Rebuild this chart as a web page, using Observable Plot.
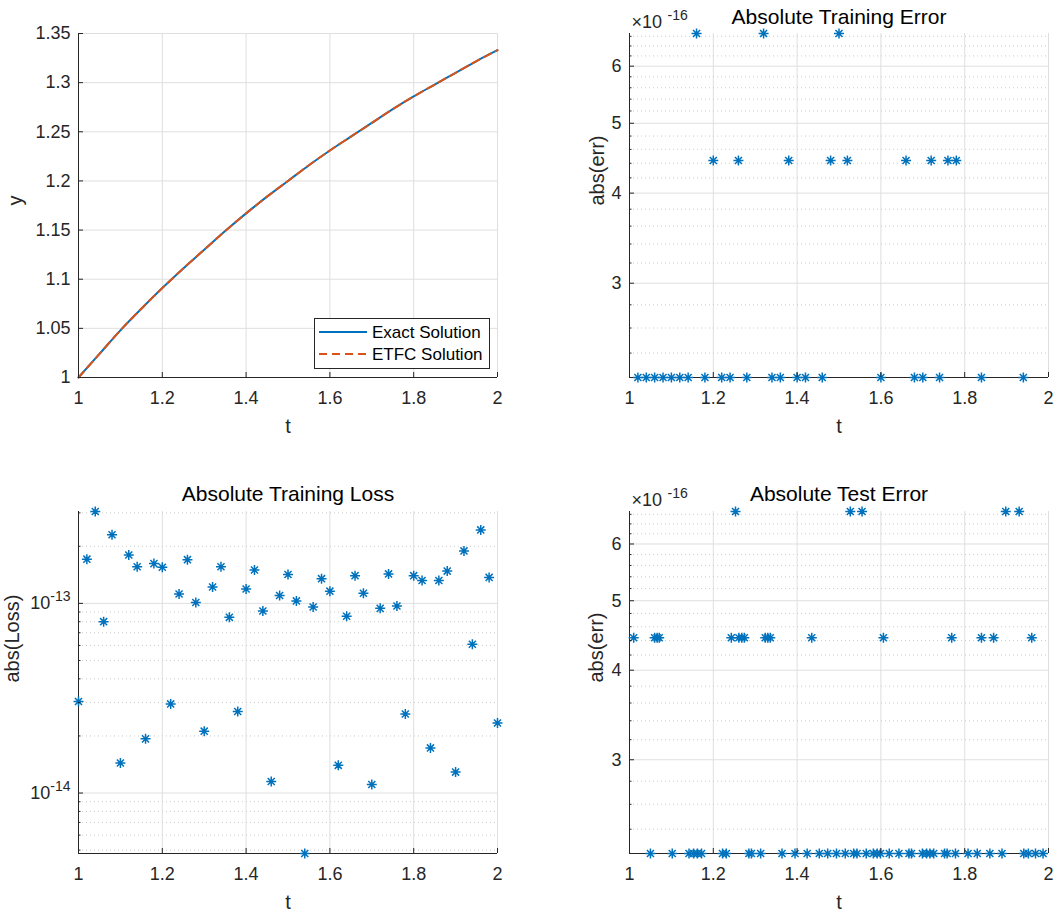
<!DOCTYPE html>
<html>
<head>
<meta charset="utf-8">
<script src="https://cdn.jsdelivr.net/npm/d3@7"></script>
<script src="https://cdn.jsdelivr.net/npm/@observablehq/plot@0.6"></script>
<style>
  html, body { margin: 0; padding: 0; background: #ffffff; }
  #fig { position: relative; width: 1055px; height: 914px; overflow: hidden;
         font-family: "Liberation Sans", Arial, Helvetica, sans-serif; color: #262626; }
  #fig .panel { position: absolute; }
  #fig .legend { position: absolute; box-sizing: border-box; border: 1px solid #262626; background: #fff; }
</style>
</head>
<body>
<div id="fig"></div>
<script>
// ---------------- data ----------------
const xTicks = [1, 1.2, 1.4, 1.6, 1.8, 2];

// Panel 1: solution curves
const solT = [1.00, 1.05, 1.10, 1.15, 1.20, 1.25, 1.30, 1.35, 1.40, 1.45, 1.50,
              1.55, 1.60, 1.65, 1.70, 1.75, 1.80, 1.85, 1.90, 1.95, 2.00];
const yExact = [1.000, 1.024, 1.048, 1.070, 1.091, 1.111, 1.130, 1.149, 1.167, 1.184, 1.200,
                1.216, 1.231, 1.245, 1.259, 1.273, 1.286, 1.298, 1.310, 1.322, 1.333];
const yETFC  = [1.000, 1.024, 1.048, 1.070, 1.091, 1.111, 1.130, 1.149, 1.167, 1.184, 1.200,
                1.216, 1.231, 1.245, 1.259, 1.273, 1.286, 1.298, 1.310, 1.322, 1.333];
const solYTicks = [1, 1.05, 1.1, 1.15, 1.2, 1.25, 1.3, 1.35];
const legendLabels = ["Exact Solution", "ETFC Solution"];

// Panels 2 & 4: error levels (multiples of machine epsilon)
const errLevels = [2.22e-16, 4.44e-16, 6.66e-16];
const errYTicks = [3e-16, 4e-16, 5e-16, 6e-16];
const errYTickLabels = ["3", "4", "5", "6"];
const errYMinor = [2.4e-16, 2.6e-16, 2.8e-16, 3.2e-16, 3.4e-16, 3.6e-16, 3.8e-16,
                   4.2e-16, 4.4e-16, 4.6e-16, 4.8e-16, 5.2e-16, 5.4e-16, 5.6e-16, 5.8e-16,
                   6.2e-16, 6.4e-16, 6.6e-16];

// Panel 2: training error, t positions per level
const trainTLevel1 = [1.02, 1.04, 1.06, 1.08, 1.10, 1.12, 1.14, 1.18, 1.22, 1.24, 1.28,
                      1.34, 1.36, 1.40, 1.42, 1.46, 1.60, 1.68, 1.70, 1.74, 1.84, 1.94];
const trainTLevel2 = [1.20, 1.26, 1.38, 1.48, 1.52, 1.66, 1.72, 1.76, 1.78];
const trainTLevel3 = [1.16, 1.32, 1.50];

// Panel 4: test error, t positions per level
const testTLevel1 = [1.050, 1.102, 1.142, 1.153, 1.162, 1.172, 1.222, 1.231, 1.285, 1.291, 1.313,
                     1.364, 1.395, 1.424, 1.453, 1.473, 1.494, 1.515, 1.535, 1.543, 1.565, 1.582,
                     1.591, 1.599, 1.620, 1.643, 1.667, 1.673, 1.699, 1.709, 1.717, 1.726, 1.752,
                     1.758, 1.778, 1.808, 1.830, 1.860, 1.889, 1.941, 1.952, 1.969, 1.987];
const testTLevel2 = [1.010, 1.060, 1.066, 1.071, 1.243, 1.261, 1.268, 1.274, 1.324, 1.330, 1.336,
                     1.435, 1.606, 1.769, 1.840, 1.869, 1.960];
const testTLevel3 = [1.253, 1.527, 1.555, 1.898, 1.930];

// Panel 3: training loss
const lossT = [1.00, 1.02, 1.04, 1.06, 1.08, 1.10, 1.12, 1.14, 1.16, 1.18, 1.20,
               1.22, 1.24, 1.26, 1.28, 1.30, 1.32, 1.34, 1.36, 1.38, 1.40,
               1.42, 1.44, 1.46, 1.48, 1.50, 1.52, 1.54, 1.56, 1.58, 1.60,
               1.62, 1.64, 1.66, 1.68, 1.70, 1.72, 1.74, 1.76, 1.78, 1.80,
               1.82, 1.84, 1.86, 1.88, 1.90, 1.92, 1.94, 1.96, 1.98, 2.00];
const lossVal = [3.04e-14, 1.71e-13, 3.05e-13, 8.01e-14, 2.30e-13, 1.44e-14, 1.80e-13, 1.56e-13, 1.93e-14, 1.62e-13, 1.55e-13,
                 2.95e-14, 1.12e-13, 1.70e-13, 1.01e-13, 2.12e-14, 1.22e-13, 1.56e-13, 8.44e-14, 2.69e-14, 1.19e-13,
                 1.50e-13, 9.11e-14, 1.15e-14, 1.10e-13, 1.42e-13, 1.03e-13, 4.80e-15, 9.57e-14, 1.35e-13, 1.16e-13,
                 1.40e-14, 8.55e-14, 1.40e-13, 1.13e-13, 1.11e-14, 9.41e-14, 1.43e-13, 9.68e-14, 2.61e-14, 1.40e-13,
                 1.32e-13, 1.73e-14, 1.32e-13, 1.48e-13, 1.29e-14, 1.89e-13, 6.09e-14, 2.44e-13, 1.37e-13, 2.34e-14];
const lossYTicks = [1e-14, 1e-13];
const lossYTickLabels = ["10^-14", "10^-13"];
const lossYMinor = [5e-15, 6e-15, 7e-15, 8e-15, 9e-15,
                    2e-14, 3e-14, 4e-14, 5e-14, 6e-14, 7e-14, 8e-14, 9e-14,
                    2e-13, 3e-13];

// ---------------- styling ----------------
const AX = "#262626", GRID = "#dfdfdf", MINOR = "#cdcdcd", BLUE = "#0072BD", RED = "#D95319";
const FONT = '"Liberation Sans", Arial, Helvetica, sans-serif';

// MATLAB-like 8-spoke asterisk marker
const asterisk = {
  draw(ctx, size) {
    const r = Math.sqrt(size / Math.PI), d = r * Math.SQRT1_2;
    ctx.moveTo(-r, 0); ctx.lineTo(r, 0);
    ctx.moveTo(0, -r); ctx.lineTo(0, r);
    ctx.moveTo(-d, -d); ctx.lineTo(d, d);
    ctx.moveTo(-d, d); ctx.lineTo(d, -d);
  }
};

const fig = document.getElementById("fig");

function labelFor(ticks, labels) {
  return d => {
    const i = ticks.findIndex(v => Math.abs(v - d) <= Math.abs(v) * 1e-9);
    return i >= 0 ? labels[i] : "";
  };
}

function buildPanel(cfg) {
  const {left, top, width, height, m, yType, yDomain, yTicks, yFormat, yMinor,
         title, ylabel, ylabelDx, dataMarks, exponent} = cfg;
  const marks = [
    Plot.gridX(xTicks, {stroke: GRID, strokeOpacity: 1, strokeWidth: 1}),
    Plot.gridY(yTicks, {stroke: GRID, strokeOpacity: 1, strokeWidth: 1})
  ];
  if (yMinor) marks.push(Plot.gridY(yMinor, {stroke: MINOR, strokeOpacity: 1, strokeWidth: 1, strokeDasharray: "1,3"}));
  marks.push(
    Plot.ruleX([1], {stroke: AX, strokeWidth: 1}),
    Plot.ruleY([yDomain[0]], {stroke: AX, strokeWidth: 1}),
    ...dataMarks,
    Plot.axisX(xTicks, {tickSize: 0, tickPadding: 14, tickFormat: d => String(d), label: null, fontSize: 18, fill: AX}),
    Plot.axisX(xTicks, {tickSize: -5, tickFormat: () => "", label: null, stroke: AX}),
    Plot.axisY(yTicks, {tickSize: 0, tickPadding: 8, tickFormat: yFormat, label: null, fontSize: 18, fill: AX}),
    Plot.axisY(yTicks, {tickSize: -5, tickFormat: () => "", label: null, stroke: AX})
  );
  if (yMinor) marks.push(Plot.axisY(yMinor, {tickSize: -2.5, tickFormat: () => "", label: null, stroke: AX}));
  if (title) marks.push(Plot.text([title], {text: d => d, frameAnchor: "top", dy: cfg.titleDy, lineAnchor: "middle", fontSize: 21, fill: "#000"}));
  marks.push(Plot.text(["t"], {text: d => d, frameAnchor: "bottom", dy: 49, lineAnchor: "middle", fontSize: 20, fill: AX}));
  marks.push(Plot.text([ylabel], {text: d => d, frameAnchor: "left", dx: ylabelDx, rotate: -90, lineAnchor: "middle", fontSize: 20, fill: AX}));
  if (exponent) {
    marks.push(Plot.text(["\u00d710"], {text: d => d, frameAnchor: "top-left", textAnchor: "start", lineAnchor: "bottom", dx: 2, dy: -6, fontSize: 18, fill: AX}));
    marks.push(Plot.text([exponent], {text: d => d, frameAnchor: "top-left", textAnchor: "start", lineAnchor: "bottom", dx: 38, dy: -14, fontSize: 14, fill: AX}));
  }
  const svg = Plot.plot({
    width, height,
    marginLeft: m[0], marginRight: m[1], marginTop: m[2], marginBottom: m[3],
    x: {domain: [1, 2], label: null},
    y: {type: yType, domain: yDomain, label: null},
    style: {fontFamily: FONT, fontSize: "18px", color: AX, background: "transparent", overflow: "visible"},
    marks
  });
  // superscript exponents for labels like 10^-13
  d3.select(svg).selectAll("text").each(function() {
    const mm = (this.textContent || "").match(/^10\^(-?\d+)$/);
    if (mm && this.childElementCount === 0) {
      this.textContent = "10";
      d3.select(this).append("tspan").attr("dy", "-0.55em").attr("font-size", "14px").text(mm[1]);
    }
  });
  const wrap = document.createElement("div");
  wrap.className = "panel";
  wrap.style.left = left + "px";
  wrap.style.top = top + "px";
  wrap.appendChild(svg);
  fig.appendChild(wrap);
}

function levelRows(levelArrays) {
  const rows = [];
  levelArrays.forEach((ts, i) => ts.forEach(t => rows.push({t, e: errLevels[i]})));
  return rows;
}

const dotStyle = {symbol: asterisk, r: 5, fill: "none", stroke: BLUE, strokeWidth: 1.5};

// ---- Panel 1 ----
const solRows = solT.map((t, i) => ({t, exact: yExact[i], etfc: yETFC[i]}));
buildPanel({
  left: 0, top: 0, width: 527, height: 420, m: [78, 30, 33, 43],
  yType: "linear", yDomain: [1, 1.35], yTicks: solYTicks, yFormat: d => String(d),
  ylabel: "y", ylabelDx: -63,
  dataMarks: [
    Plot.line(solRows, {x: "t", y: "exact", stroke: BLUE, strokeWidth: 2, curve: "monotone-x"}),
    Plot.line(solRows, {x: "t", y: "etfc", stroke: RED, strokeWidth: 2, strokeDasharray: "8,5", curve: "monotone-x"})
  ]
});

// ---- Panel 2 ----
const trainRows = levelRows([trainTLevel1, trainTLevel2, trainTLevel3]);
buildPanel({
  left: 527, top: 0, width: 528, height: 420, m: [102, 7, 33, 43],
  yType: "log", yDomain: [errLevels[0], errLevels[2]], yTicks: errYTicks,
  yFormat: labelFor(errYTicks, errYTickLabels), yMinor: errYMinor,
  title: "Absolute Training Error", titleDy: -16,
  ylabel: "abs(err)", ylabelDx: -32, exponent: "-16",
  dataMarks: [Plot.dot(trainRows, {x: "t", y: "e", ...dotStyle})]
});

// ---- Panel 3 ----
const lossRows = lossT.map((t, i) => ({t, v: lossVal[i]}));
buildPanel({
  left: 0, top: 460, width: 527, height: 454, m: [78, 30, 51, 61],
  yType: "log", yDomain: d3.extent(lossVal), yTicks: lossYTicks,
  yFormat: labelFor(lossYTicks, lossYTickLabels), yMinor: lossYMinor,
  title: "Absolute Training Loss", titleDy: -17,
  ylabel: "abs(Loss)", ylabelDx: -66,
  dataMarks: [Plot.dot(lossRows, {x: "t", y: "v", ...dotStyle})]
});

// ---- Panel 4 ----
const testRows = levelRows([testTLevel1, testTLevel2, testTLevel3]);
buildPanel({
  left: 527, top: 460, width: 528, height: 454, m: [102, 7, 51, 61],
  yType: "log", yDomain: [errLevels[0], errLevels[2]], yTicks: errYTicks,
  yFormat: labelFor(errYTicks, errYTickLabels), yMinor: errYMinor,
  title: "Absolute Test Error", titleDy: -17,
  ylabel: "abs(err)", ylabelDx: -33, exponent: "-16",
  dataMarks: [Plot.dot(testRows, {x: "t", y: "e", ...dotStyle})]
});

// ---- Legend for panel 1 ----
const legend = document.createElement("div");
legend.className = "legend";
legend.style.left = "314px"; legend.style.top = "318px";
legend.style.width = "176px"; legend.style.height = "51px";
const lsvg = d3.create("svg").attr("width", 174).attr("height", 49).style("display", "block");
const legendStyles = [{stroke: BLUE, dash: null}, {stroke: RED, dash: "8,5"}];
legendLabels.forEach((lab, i) => {
  const cy = 13 + i * 22;
  lsvg.append("line").attr("x1", 4).attr("x2", 52).attr("y1", cy).attr("y2", cy)
    .attr("stroke", legendStyles[i].stroke).attr("stroke-width", 2)
    .attr("stroke-dasharray", legendStyles[i].dash);
  lsvg.append("text").attr("x", 57).attr("y", cy).attr("dy", "0.35em")
    .attr("font-family", FONT).attr("font-size", 17).attr("fill", "#000").text(lab);
});
legend.appendChild(lsvg.node());
fig.appendChild(legend);
</script>
</body>
</html>
